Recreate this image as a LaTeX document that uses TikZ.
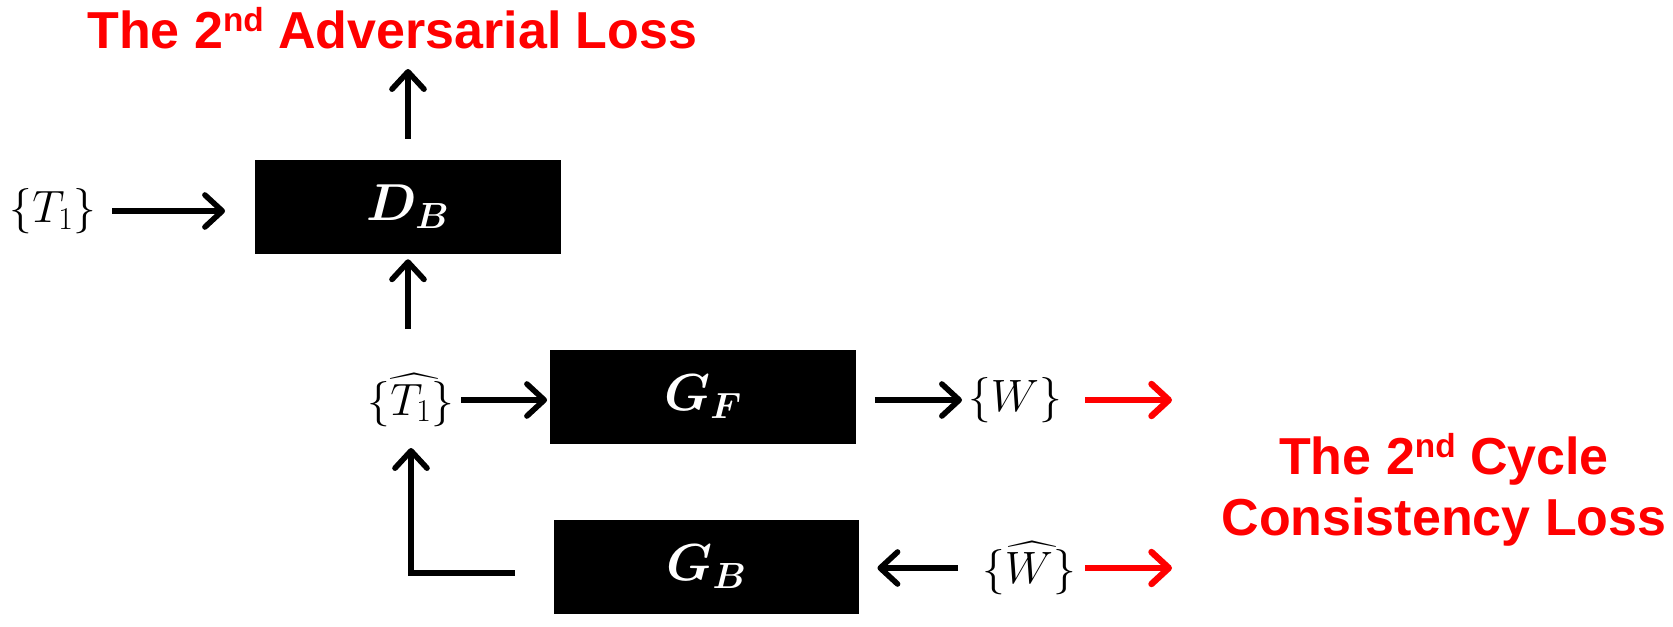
\RequirePackage{fix-cm}
\documentclass[tikz,border=0pt]{standalone}
\usepackage{exscale}
\usepackage{bm}
\usepackage{fontspec}
\newfontfamily\arialfont{Liberation Sans}
\usetikzlibrary{arrows.meta}
\newcommand\supnd{\raisebox{12.75pt}{\fontsize{25}{25}\selectfont nd}}
\newcommand\bighat[2]{\rlap{$\widehat{\phantom{#2}}$}#1}
\tikzset{
  arr/.style={line width=4.2pt, -{Straight Barb[length=13pt,width=24pt,round]}},
  redarr/.style={arr, draw=red, line width=4.8pt},
  box/.style={fill=black, draw=none, minimum width=229pt, minimum height=70.5pt,
    text=white, inner sep=0pt, font=\fontsize{39}{42}\selectfont},
  lbl/.style={inner sep=0pt, font=\fontsize{34}{40}\selectfont},
  loss/.style={text=red, inner sep=0pt, font=\arialfont\bfseries\fontsize{39}{45.75}\selectfont},
}
\begin{document}
\begin{tikzpicture}[x=0.75pt,y=-0.75pt]
\useasboundingbox (0,0) rectangle (1673,626);
% boxes
\node[box] (db) at (408,207) {$\bm{D_B}$};
\node[box] (gf) at (703,396.5) {$\bm{G_F}$};
\node[box] (gb) at (706.5,567) {$\bm{G_B}$};
% labels
\node[lbl] (t1) at (53,211) {$\{T_1\}$};
\node[lbl] (t1h) at (411,400) {$\{\bighat{T_1}{T_1\,}\}$};
\node[lbl] (w) at (1015,400) {$\{W\}$};
\node[lbl] (wh) at (1029,568) {$\{\bighat{W}{W\,}\}$};
\node[loss, anchor=base west] (adv) at (87,48) {The 2\supnd{} Adversarial Loss};
\node[loss, align=center] (cyc) at (1444,490) {The 2\supnd{} Cycle\\Consistency Loss};
\coordinate (r1) at (1172,400);
\coordinate (r2) at (1172,568);
% connectors
\draw[arr, shorten <=44.25pt, shorten >=22.5pt] (t1.center) -- (t1.center -| db.west);
\draw[arr, shorten <=15.75pt, shorten >=15.75pt] (db.north) -- (db.north |- adv.base);
\draw[arr, shorten <=53.25pt, shorten >=3.75pt] (t1h.center -| db.south) -- (db.south);
\draw[arr, shorten <=37.5pt, shorten >=2.25pt] (t1h.center) -- (t1h.center -| gf.west);
\draw[arr, shorten <=14.25pt, shorten >=39.75pt] (w.center -| gf.east) -- (w.center);
\draw[redarr, shorten <=52.5pt] (w.center) -- (r1);
\draw[arr, shorten <=53.25pt, shorten >=13.5pt] (wh.center) -- (wh.center -| gb.east);
\draw[redarr, shorten <=42pt] (wh.center) -- (r2);
\draw[arr, shorten <=29.25pt, shorten >=36pt] ([yshift=-4.5pt]gb.west) -| (t1h.center);
\end{tikzpicture}
\end{document}
